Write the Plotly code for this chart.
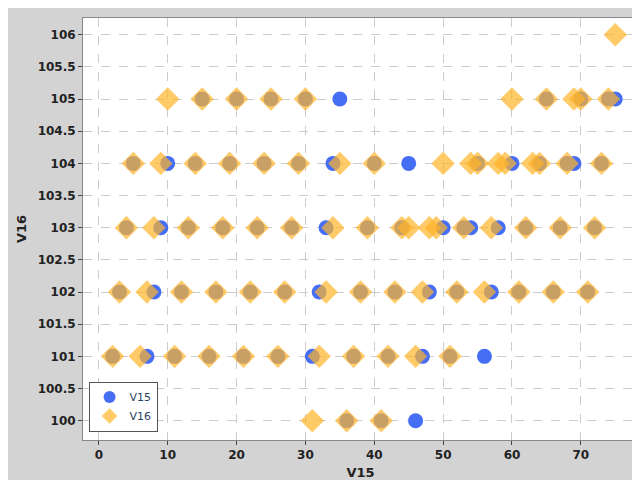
import plotly.graph_objects as go

v15_x = [15,20,25,30,35,65,70,74,75,
         5,10,14,19,24,29,34,40,45,55,60,64,68,69,73,
         4,9,13,18,23,28,33,39,44,50,53,54,58,62,67,72,
         3,8,12,17,22,27,32,38,43,48,52,57,61,66,71,
         2,7,11,16,21,26,31,37,42,47,51,56,
         36,41,46]
v15_y = [105]*9 + [104]*15 + [103]*16 + [102]*15 + [101]*12 + [100]*3

v16_x = [75,
         10,15,20,25,30,60,65,69,70,74,
         5,9,14,19,24,29,35,40,50,54,55,58,59,63,64,68,73,
         4,8,13,18,23,28,34,39,44,45,48,49,53,57,62,67,72,
         3,7,12,17,22,27,33,38,43,47,52,56,61,66,71,
         2,6,11,16,21,26,32,37,42,46,51,
         31,36,41]
v16_y = [106] + [105]*10 + [104]*17 + [103]*17 + [102]*15 + [101]*11 + [100]*3

fig = go.Figure()
fig.add_trace(go.Scatter(x=v15_x, y=v15_y, mode="markers", name="V15",
    marker=dict(symbol="circle", size=15, color="rgb(70,110,245)")))
fig.add_trace(go.Scatter(x=v16_x, y=v16_y, mode="markers", name="V16",
    marker=dict(symbol="diamond", size=18, color="rgba(255,180,40,0.7)")))

ax = dict(showline=True, linecolor="#888", mirror=True, ticks="outside", ticklen=4,
          gridcolor="#ccc", griddash="dash", zeroline=False,
          tickfont=dict(family="DejaVu Sans", size=12, color="#222"),
          title_font=dict(family="DejaVu Sans", size=13, color="#222"),
          tickprefix="<b>", ticksuffix="</b>")
fig.update_xaxes(ax, title_text="<b>V15</b>", range=[-2.3, 78.3], dtick=10, title_standoff=6)
fig.update_yaxes(ax, title_text="<b>V16</b>", range=[99.7, 106.26], dtick=0.5,
                 tickformat="~g", title_standoff=8)
fig.update_layout(width=640, height=480, paper_bgcolor="#d3d3d3", plot_bgcolor="white",
    margin=dict(l=75, r=10, t=10, b=48), font=dict(family="DejaVu Sans"),
    legend=dict(x=0.01, y=0.02, xanchor="left", yanchor="bottom", bgcolor="white",
                bordercolor="#555", borderwidth=1, font=dict(size=11),
                itemsizing="constant", tracegroupgap=8))
fig.write_html("out.html")
